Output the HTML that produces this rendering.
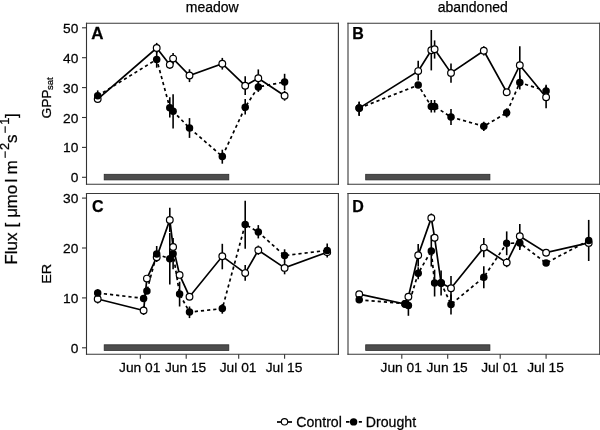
<!DOCTYPE html>
<html><head><meta charset="utf-8"><style>
html,body{margin:0;padding:0;background:#fff;width:600px;height:430px;overflow:hidden}
svg{display:block}
#w{width:600px;height:430px;will-change:transform}
text{font-family:"Liberation Sans", sans-serif;fill:#000;stroke:#000;stroke-width:0.25px}
.t{font-size:13.3px}
.h{font-size:14px}
.L{font-size:15.5px;font-weight:bold}
.f{font-size:16px}
</style></head><body>
<div id="w"><svg width="600" height="430" viewBox="0 0 600 430">
<path d="M86.5,22.65V184.85000000000002M338.4,22.65V184.85000000000002" stroke="#333" stroke-width="1.1" fill="none"/>
<path d="M85.95,23.2H338.95M85.95,184.3H338.95" stroke="#3a3a3a" stroke-width="1.1" fill="none"/>
<path d="M348.0,22.65V184.85000000000002M599.7,22.65V184.85000000000002" stroke="#3a3a3a" stroke-width="1.1" fill="none"/>
<path d="M347.45,23.2H600.25M347.45,184.3H600.25" stroke="#3a3a3a" stroke-width="1.1" fill="none"/>
<path d="M86.5,192.95V354.85M338.4,192.95V354.85" stroke="#333" stroke-width="1.1" fill="none"/>
<path d="M85.95,193.5H338.95M85.95,354.3H338.95" stroke="#3a3a3a" stroke-width="1.1" fill="none"/>
<path d="M348.0,192.95V354.85M599.7,192.95V354.85" stroke="#3a3a3a" stroke-width="1.1" fill="none"/>
<path d="M347.45,193.5H600.25M347.45,354.3H600.25" stroke="#3a3a3a" stroke-width="1.1" fill="none"/>
<rect x="104.2" y="174.3" width="124.6" height="5.6" fill="#4d4d4d" stroke="#2a2a2a" stroke-width="0.8"/>
<rect x="104.2" y="344.8" width="124.6" height="5.6" fill="#4d4d4d" stroke="#2a2a2a" stroke-width="0.8"/>
<rect x="365.7" y="174.3" width="124.2" height="5.6" fill="#4d4d4d" stroke="#2a2a2a" stroke-width="0.8"/>
<rect x="365.7" y="344.8" width="124.2" height="5.6" fill="#4d4d4d" stroke="#2a2a2a" stroke-width="0.8"/>
<line x1="82" y1="177.3" x2="86.5" y2="177.3" stroke="#333" stroke-width="1.1"/>
<text transform="translate(78.30,182.30) scale(1.02,1)" text-anchor="end" font-size="13.5">0</text>
<line x1="82" y1="147.4" x2="86.5" y2="147.4" stroke="#333" stroke-width="1.1"/>
<text transform="translate(78.30,152.40) scale(1.02,1)" text-anchor="end" font-size="13.5">10</text>
<line x1="82" y1="117.5" x2="86.5" y2="117.5" stroke="#333" stroke-width="1.1"/>
<text transform="translate(78.30,122.50) scale(1.02,1)" text-anchor="end" font-size="13.5">20</text>
<line x1="82" y1="87.6" x2="86.5" y2="87.6" stroke="#333" stroke-width="1.1"/>
<text transform="translate(78.30,92.60) scale(1.02,1)" text-anchor="end" font-size="13.5">30</text>
<line x1="82" y1="57.7" x2="86.5" y2="57.7" stroke="#333" stroke-width="1.1"/>
<text transform="translate(78.30,62.70) scale(1.02,1)" text-anchor="end" font-size="13.5">40</text>
<line x1="82" y1="27.8" x2="86.5" y2="27.8" stroke="#333" stroke-width="1.1"/>
<text transform="translate(78.30,32.80) scale(1.02,1)" text-anchor="end" font-size="13.5">50</text>
<line x1="82" y1="347.8" x2="86.5" y2="347.8" stroke="#333" stroke-width="1.1"/>
<text transform="translate(78.30,352.80) scale(1.02,1)" text-anchor="end" font-size="13.5">0</text>
<line x1="82" y1="297.9" x2="86.5" y2="297.9" stroke="#333" stroke-width="1.1"/>
<text transform="translate(78.30,302.90) scale(1.02,1)" text-anchor="end" font-size="13.5">10</text>
<line x1="82" y1="248.0" x2="86.5" y2="248.0" stroke="#333" stroke-width="1.1"/>
<text transform="translate(78.30,253.00) scale(1.02,1)" text-anchor="end" font-size="13.5">20</text>
<line x1="82" y1="198.1" x2="86.5" y2="198.1" stroke="#333" stroke-width="1.1"/>
<text transform="translate(78.30,203.10) scale(1.02,1)" text-anchor="end" font-size="13.5">30</text>
<line x1="140.3" y1="354.3" x2="140.3" y2="358.8" stroke="#333" stroke-width="1.1"/>
<text transform="translate(139.70,372.30) scale(1.02,1)" text-anchor="middle" font-size="13.5">Jun 01</text>
<line x1="186.2" y1="354.3" x2="186.2" y2="358.8" stroke="#333" stroke-width="1.1"/>
<text transform="translate(185.61,372.30) scale(1.02,1)" text-anchor="middle" font-size="13.5">Jun 15</text>
<line x1="238.7" y1="354.3" x2="238.7" y2="358.8" stroke="#333" stroke-width="1.1"/>
<text transform="translate(238.07,372.30) scale(1.02,1)" text-anchor="middle" font-size="13.5">Jul 01</text>
<line x1="284.6" y1="354.3" x2="284.6" y2="358.8" stroke="#333" stroke-width="1.1"/>
<text transform="translate(283.98,372.30) scale(1.02,1)" text-anchor="middle" font-size="13.5">Jul 15</text>
<line x1="401.8" y1="354.3" x2="401.8" y2="358.8" stroke="#333" stroke-width="1.1"/>
<text transform="translate(401.20,372.30) scale(1.02,1)" text-anchor="middle" font-size="13.5">Jun 01</text>
<line x1="447.7" y1="354.3" x2="447.7" y2="358.8" stroke="#333" stroke-width="1.1"/>
<text transform="translate(447.11,372.30) scale(1.02,1)" text-anchor="middle" font-size="13.5">Jun 15</text>
<line x1="500.2" y1="354.3" x2="500.2" y2="358.8" stroke="#333" stroke-width="1.1"/>
<text transform="translate(499.57,372.30) scale(1.02,1)" text-anchor="middle" font-size="13.5">Jul 01</text>
<line x1="546.1" y1="354.3" x2="546.1" y2="358.8" stroke="#333" stroke-width="1.1"/>
<text transform="translate(545.48,372.30) scale(1.02,1)" text-anchor="middle" font-size="13.5">Jul 15</text>
<line x1="156.7" y1="42.9" x2="156.7" y2="53.1" stroke="#000" stroke-width="1.6"/>
<line x1="169.8" y1="60.7" x2="169.8" y2="68.7" stroke="#000" stroke-width="1.6"/>
<line x1="173.1" y1="53.0" x2="173.1" y2="64.2" stroke="#000" stroke-width="1.6"/>
<line x1="189.5" y1="69.3" x2="189.5" y2="82.1" stroke="#000" stroke-width="1.6"/>
<line x1="222.3" y1="57.9" x2="222.3" y2="69.6" stroke="#000" stroke-width="1.6"/>
<line x1="245.2" y1="76.3" x2="245.2" y2="95.1" stroke="#000" stroke-width="1.6"/>
<line x1="258.3" y1="69.4" x2="258.3" y2="87.0" stroke="#000" stroke-width="1.6"/>
<line x1="284.6" y1="90.9" x2="284.6" y2="100.7" stroke="#000" stroke-width="1.6"/>
<line x1="97.7" y1="90.4" x2="97.7" y2="101.2" stroke="#000" stroke-width="1.6"/>
<line x1="156.7" y1="51.1" x2="156.7" y2="67.7" stroke="#000" stroke-width="1.6"/>
<line x1="169.8" y1="97.2" x2="169.8" y2="117.6" stroke="#000" stroke-width="1.6"/>
<line x1="173.1" y1="94.3" x2="173.1" y2="128.6" stroke="#000" stroke-width="1.6"/>
<line x1="189.5" y1="118.1" x2="189.5" y2="137.9" stroke="#000" stroke-width="1.6"/>
<line x1="222.3" y1="149.7" x2="222.3" y2="163.7" stroke="#000" stroke-width="1.6"/>
<line x1="245.2" y1="99.0" x2="245.2" y2="114.6" stroke="#000" stroke-width="1.6"/>
<line x1="258.3" y1="82.3" x2="258.3" y2="91.9" stroke="#000" stroke-width="1.6"/>
<line x1="284.6" y1="73.8" x2="284.6" y2="90.2" stroke="#000" stroke-width="1.6"/>
<polyline points="97.7,99.1 156.7,48.0 169.8,64.7 173.1,58.6 189.5,75.5 222.3,63.7 245.2,85.7 258.3,78.2 284.6,95.8" fill="none" stroke="#000" stroke-width="1.7"/>
<polyline points="97.7,95.8 156.7,59.4 169.8,107.7 173.1,111.2 189.5,128.1 222.3,156.4 245.2,107.2 258.3,86.9 284.6,82.0" fill="none" stroke="#000" stroke-width="1.7" stroke-dasharray="3.2,2.985"/>
<circle cx="97.7" cy="99.1" r="3.35" fill="#fff" stroke="#000" stroke-width="1.2"/>
<circle cx="156.7" cy="48.0" r="3.35" fill="#fff" stroke="#000" stroke-width="1.2"/>
<circle cx="169.8" cy="64.7" r="3.35" fill="#fff" stroke="#000" stroke-width="1.2"/>
<circle cx="173.1" cy="58.6" r="3.35" fill="#fff" stroke="#000" stroke-width="1.2"/>
<circle cx="189.5" cy="75.5" r="3.35" fill="#fff" stroke="#000" stroke-width="1.2"/>
<circle cx="222.3" cy="63.7" r="3.35" fill="#fff" stroke="#000" stroke-width="1.2"/>
<circle cx="245.2" cy="85.7" r="3.35" fill="#fff" stroke="#000" stroke-width="1.2"/>
<circle cx="258.3" cy="78.2" r="3.35" fill="#fff" stroke="#000" stroke-width="1.2"/>
<circle cx="284.6" cy="95.8" r="3.35" fill="#fff" stroke="#000" stroke-width="1.2"/>
<circle cx="97.7" cy="95.8" r="3.75" fill="#000"/>
<circle cx="156.7" cy="59.4" r="3.75" fill="#000"/>
<circle cx="169.8" cy="107.7" r="3.75" fill="#000"/>
<circle cx="173.1" cy="111.2" r="3.75" fill="#000"/>
<circle cx="189.5" cy="128.1" r="3.75" fill="#000"/>
<circle cx="222.3" cy="156.4" r="3.75" fill="#000"/>
<circle cx="245.2" cy="107.2" r="3.75" fill="#000"/>
<circle cx="258.3" cy="86.9" r="3.75" fill="#000"/>
<circle cx="284.6" cy="82.0" r="3.75" fill="#000"/>
<line x1="359.2" y1="101.8" x2="359.2" y2="115.8" stroke="#000" stroke-width="1.6"/>
<line x1="418.2" y1="60.7" x2="418.2" y2="80.5" stroke="#000" stroke-width="1.6"/>
<line x1="431.3" y1="30.0" x2="431.3" y2="70.4" stroke="#000" stroke-width="1.6"/>
<line x1="434.6" y1="40.4" x2="434.6" y2="58.6" stroke="#000" stroke-width="1.6"/>
<line x1="451.0" y1="63.4" x2="451.0" y2="82.8" stroke="#000" stroke-width="1.6"/>
<line x1="483.8" y1="46.2" x2="483.8" y2="55.4" stroke="#000" stroke-width="1.6"/>
<line x1="519.8" y1="46.2" x2="519.8" y2="84.2" stroke="#000" stroke-width="1.6"/>
<line x1="546.1" y1="86.1" x2="546.1" y2="108.3" stroke="#000" stroke-width="1.6"/>
<line x1="359.2" y1="101.8" x2="359.2" y2="115.8" stroke="#000" stroke-width="1.6"/>
<line x1="431.3" y1="100.0" x2="431.3" y2="112.5" stroke="#000" stroke-width="1.6"/>
<line x1="434.6" y1="100.0" x2="434.6" y2="112.5" stroke="#000" stroke-width="1.6"/>
<line x1="451.0" y1="109.0" x2="451.0" y2="125.1" stroke="#000" stroke-width="1.6"/>
<line x1="483.8" y1="121.7" x2="483.8" y2="130.9" stroke="#000" stroke-width="1.6"/>
<line x1="506.7" y1="108.3" x2="506.7" y2="117.5" stroke="#000" stroke-width="1.6"/>
<line x1="519.8" y1="75.6" x2="519.8" y2="89.6" stroke="#000" stroke-width="1.6"/>
<line x1="546.1" y1="84.7" x2="546.1" y2="97.1" stroke="#000" stroke-width="1.6"/>
<polyline points="359.2,108.1 418.2,71.1 431.3,50.2 434.6,49.2 451.0,72.9 483.8,50.8 506.7,92.2 519.8,65.2 546.1,97.2" fill="none" stroke="#000" stroke-width="1.7"/>
<polyline points="359.2,108.1 418.2,85.1 431.3,106.5 434.6,106.5 451.0,117.0 483.8,126.3 506.7,112.8 519.8,82.6 546.1,90.9" fill="none" stroke="#000" stroke-width="1.7" stroke-dasharray="3.2,2.985"/>
<circle cx="359.2" cy="108.1" r="3.35" fill="#fff" stroke="#000" stroke-width="1.2"/>
<circle cx="418.2" cy="71.1" r="3.35" fill="#fff" stroke="#000" stroke-width="1.2"/>
<circle cx="431.3" cy="50.2" r="3.35" fill="#fff" stroke="#000" stroke-width="1.2"/>
<circle cx="434.6" cy="49.2" r="3.35" fill="#fff" stroke="#000" stroke-width="1.2"/>
<circle cx="451.0" cy="72.9" r="3.35" fill="#fff" stroke="#000" stroke-width="1.2"/>
<circle cx="483.8" cy="50.8" r="3.35" fill="#fff" stroke="#000" stroke-width="1.2"/>
<circle cx="506.7" cy="92.2" r="3.35" fill="#fff" stroke="#000" stroke-width="1.2"/>
<circle cx="519.8" cy="65.2" r="3.35" fill="#fff" stroke="#000" stroke-width="1.2"/>
<circle cx="359.2" cy="108.1" r="3.75" fill="#000"/>
<circle cx="418.2" cy="85.1" r="3.75" fill="#000"/>
<circle cx="431.3" cy="106.5" r="3.75" fill="#000"/>
<circle cx="434.6" cy="106.5" r="3.75" fill="#000"/>
<circle cx="451.0" cy="117.0" r="3.75" fill="#000"/>
<circle cx="483.8" cy="126.3" r="3.75" fill="#000"/>
<circle cx="506.7" cy="112.8" r="3.75" fill="#000"/>
<circle cx="519.8" cy="82.6" r="3.75" fill="#000"/>
<circle cx="546.1" cy="90.9" r="3.75" fill="#000"/>
<circle cx="546.1" cy="97.2" r="3.35" fill="#fff" stroke="#000" stroke-width="1.2"/>
<line x1="97.7" y1="294.5" x2="97.7" y2="303.5" stroke="#000" stroke-width="1.6"/>
<line x1="143.6" y1="306.1" x2="143.6" y2="314.9" stroke="#000" stroke-width="1.6"/>
<line x1="169.8" y1="207.8" x2="169.8" y2="232.0" stroke="#000" stroke-width="1.6"/>
<line x1="222.3" y1="243.8" x2="222.3" y2="269.3" stroke="#000" stroke-width="1.6"/>
<line x1="245.2" y1="265.0" x2="245.2" y2="280.8" stroke="#000" stroke-width="1.6"/>
<line x1="258.3" y1="245.6" x2="258.3" y2="254.8" stroke="#000" stroke-width="1.6"/>
<line x1="284.6" y1="261.5" x2="284.6" y2="274.3" stroke="#000" stroke-width="1.6"/>
<line x1="97.7" y1="289.2" x2="97.7" y2="296.8" stroke="#000" stroke-width="1.6"/>
<line x1="156.7" y1="246.0" x2="156.7" y2="262.0" stroke="#000" stroke-width="1.6"/>
<line x1="169.8" y1="233.0" x2="169.8" y2="284.4" stroke="#000" stroke-width="1.6"/>
<line x1="173.1" y1="238.0" x2="173.1" y2="269.3" stroke="#000" stroke-width="1.6"/>
<line x1="179.6" y1="281.7" x2="179.6" y2="306.5" stroke="#000" stroke-width="1.6"/>
<line x1="189.5" y1="306.5" x2="189.5" y2="318.1" stroke="#000" stroke-width="1.6"/>
<line x1="222.3" y1="304.1" x2="222.3" y2="313.7" stroke="#000" stroke-width="1.6"/>
<line x1="245.2" y1="200.7" x2="245.2" y2="248.8" stroke="#000" stroke-width="1.6"/>
<line x1="258.3" y1="225.1" x2="258.3" y2="238.4" stroke="#000" stroke-width="1.6"/>
<line x1="284.6" y1="249.3" x2="284.6" y2="261.9" stroke="#000" stroke-width="1.6"/>
<line x1="327.2" y1="243.4" x2="327.2" y2="257.4" stroke="#000" stroke-width="1.6"/>
<polyline points="97.7,299.0 143.6,310.5 146.9,278.6 156.7,257.2 169.8,219.9 173.1,246.9 179.6,274.9 189.5,296.7 222.3,256.3 245.2,273.1 258.3,250.2 284.6,267.9 327.2,252.2" fill="none" stroke="#000" stroke-width="1.7"/>
<polyline points="97.7,293.0 143.6,298.4 146.9,290.9 156.7,254.0 169.8,258.8 173.1,253.7 179.6,294.1 189.5,312.1 222.3,308.6 245.2,224.4 258.3,232.1 284.6,255.6 327.2,250.4" fill="none" stroke="#000" stroke-width="1.7" stroke-dasharray="3.2,2.985"/>
<circle cx="97.7" cy="299.0" r="3.35" fill="#fff" stroke="#000" stroke-width="1.2"/>
<circle cx="143.6" cy="310.5" r="3.35" fill="#fff" stroke="#000" stroke-width="1.2"/>
<circle cx="146.9" cy="278.6" r="3.35" fill="#fff" stroke="#000" stroke-width="1.2"/>
<circle cx="156.7" cy="257.2" r="3.35" fill="#fff" stroke="#000" stroke-width="1.2"/>
<circle cx="169.8" cy="219.9" r="3.35" fill="#fff" stroke="#000" stroke-width="1.2"/>
<circle cx="179.6" cy="274.9" r="3.35" fill="#fff" stroke="#000" stroke-width="1.2"/>
<circle cx="189.5" cy="296.7" r="3.35" fill="#fff" stroke="#000" stroke-width="1.2"/>
<circle cx="222.3" cy="256.3" r="3.35" fill="#fff" stroke="#000" stroke-width="1.2"/>
<circle cx="245.2" cy="273.1" r="3.35" fill="#fff" stroke="#000" stroke-width="1.2"/>
<circle cx="258.3" cy="250.2" r="3.35" fill="#fff" stroke="#000" stroke-width="1.2"/>
<circle cx="284.6" cy="267.9" r="3.35" fill="#fff" stroke="#000" stroke-width="1.2"/>
<circle cx="327.2" cy="252.2" r="3.35" fill="#fff" stroke="#000" stroke-width="1.2"/>
<circle cx="97.7" cy="293.0" r="3.75" fill="#000"/>
<circle cx="143.6" cy="298.4" r="3.75" fill="#000"/>
<circle cx="146.9" cy="290.9" r="3.75" fill="#000"/>
<circle cx="156.7" cy="254.0" r="3.75" fill="#000"/>
<circle cx="169.8" cy="258.8" r="3.75" fill="#000"/>
<circle cx="173.1" cy="253.7" r="3.75" fill="#000"/>
<circle cx="179.6" cy="294.1" r="3.75" fill="#000"/>
<circle cx="189.5" cy="312.1" r="3.75" fill="#000"/>
<circle cx="222.3" cy="308.6" r="3.75" fill="#000"/>
<circle cx="245.2" cy="224.4" r="3.75" fill="#000"/>
<circle cx="258.3" cy="232.1" r="3.75" fill="#000"/>
<circle cx="284.6" cy="255.6" r="3.75" fill="#000"/>
<circle cx="327.2" cy="250.4" r="3.75" fill="#000"/>
<circle cx="173.1" cy="246.9" r="3.35" fill="#fff" stroke="#000" stroke-width="1.2"/>
<line x1="418.2" y1="243.9" x2="418.2" y2="266.5" stroke="#000" stroke-width="1.6"/>
<line x1="431.3" y1="213.5" x2="431.3" y2="222.3" stroke="#000" stroke-width="1.6"/>
<line x1="451.0" y1="276.0" x2="451.0" y2="300.4" stroke="#000" stroke-width="1.6"/>
<line x1="483.8" y1="237.9" x2="483.8" y2="257.3" stroke="#000" stroke-width="1.6"/>
<line x1="506.7" y1="258.0" x2="506.7" y2="267.2" stroke="#000" stroke-width="1.6"/>
<line x1="519.8" y1="224.1" x2="519.8" y2="248.5" stroke="#000" stroke-width="1.6"/>
<line x1="408.4" y1="295.4" x2="408.4" y2="315.8" stroke="#000" stroke-width="1.6"/>
<line x1="418.2" y1="267.2" x2="418.2" y2="279.3" stroke="#000" stroke-width="1.6"/>
<line x1="431.3" y1="235.3" x2="431.3" y2="266.5" stroke="#000" stroke-width="1.6"/>
<line x1="434.6" y1="269.7" x2="434.6" y2="296.5" stroke="#000" stroke-width="1.6"/>
<line x1="441.1" y1="270.6" x2="441.1" y2="295.6" stroke="#000" stroke-width="1.6"/>
<line x1="451.0" y1="294.4" x2="451.0" y2="314.4" stroke="#000" stroke-width="1.6"/>
<line x1="483.8" y1="266.3" x2="483.8" y2="288.3" stroke="#000" stroke-width="1.6"/>
<line x1="506.7" y1="231.4" x2="506.7" y2="255.2" stroke="#000" stroke-width="1.6"/>
<line x1="519.8" y1="236.2" x2="519.8" y2="250.0" stroke="#000" stroke-width="1.6"/>
<line x1="588.7" y1="219.9" x2="588.7" y2="261.0" stroke="#000" stroke-width="1.6"/>
<polyline points="359.2,294.2 405.1,304.0 408.4,296.8 418.2,255.2 431.3,217.9 434.6,237.7 441.1,283.0 451.0,288.2 483.8,247.6 506.7,262.6 519.8,236.3 546.1,252.7 588.7,242.9" fill="none" stroke="#000" stroke-width="1.7"/>
<polyline points="359.2,299.8 405.1,303.7 408.4,305.6 418.2,273.2 431.3,250.9 434.6,283.1 441.1,283.1 451.0,304.4 483.8,277.2 506.7,243.3 519.8,243.1 546.1,263.1 588.7,240.5" fill="none" stroke="#000" stroke-width="1.7" stroke-dasharray="3.2,2.985"/>
<circle cx="359.2" cy="294.2" r="3.35" fill="#fff" stroke="#000" stroke-width="1.2"/>
<circle cx="405.1" cy="304.0" r="3.35" fill="#fff" stroke="#000" stroke-width="1.2"/>
<circle cx="408.4" cy="296.8" r="3.35" fill="#fff" stroke="#000" stroke-width="1.2"/>
<circle cx="418.2" cy="255.2" r="3.35" fill="#fff" stroke="#000" stroke-width="1.2"/>
<circle cx="431.3" cy="217.9" r="3.35" fill="#fff" stroke="#000" stroke-width="1.2"/>
<circle cx="434.6" cy="237.7" r="3.35" fill="#fff" stroke="#000" stroke-width="1.2"/>
<circle cx="441.1" cy="283.0" r="3.35" fill="#fff" stroke="#000" stroke-width="1.2"/>
<circle cx="451.0" cy="288.2" r="3.35" fill="#fff" stroke="#000" stroke-width="1.2"/>
<circle cx="483.8" cy="247.6" r="3.35" fill="#fff" stroke="#000" stroke-width="1.2"/>
<circle cx="506.7" cy="262.6" r="3.35" fill="#fff" stroke="#000" stroke-width="1.2"/>
<circle cx="546.1" cy="252.7" r="3.35" fill="#fff" stroke="#000" stroke-width="1.2"/>
<circle cx="588.7" cy="242.9" r="3.35" fill="#fff" stroke="#000" stroke-width="1.2"/>
<circle cx="359.2" cy="299.8" r="3.75" fill="#000"/>
<circle cx="405.1" cy="303.7" r="3.75" fill="#000"/>
<circle cx="408.4" cy="305.6" r="3.75" fill="#000"/>
<circle cx="418.2" cy="273.2" r="3.75" fill="#000"/>
<circle cx="431.3" cy="250.9" r="3.75" fill="#000"/>
<circle cx="434.6" cy="283.1" r="3.75" fill="#000"/>
<circle cx="441.1" cy="283.1" r="3.75" fill="#000"/>
<circle cx="451.0" cy="304.4" r="3.75" fill="#000"/>
<circle cx="483.8" cy="277.2" r="3.75" fill="#000"/>
<circle cx="506.7" cy="243.3" r="3.75" fill="#000"/>
<circle cx="519.8" cy="243.1" r="3.75" fill="#000"/>
<circle cx="546.1" cy="263.1" r="3.75" fill="#000"/>
<circle cx="588.7" cy="240.5" r="3.75" fill="#000"/>
<circle cx="519.8" cy="236.3" r="3.35" fill="#fff" stroke="#000" stroke-width="1.2"/>
<text transform="translate(91.30,38.95) scale(1.06,1)" text-anchor="start" font-size="16" font-weight="bold">A</text>
<text transform="translate(352.30,38.50) scale(1.0,1)" text-anchor="start" font-size="16" font-weight="bold">B</text>
<text transform="translate(92.10,212.20) scale(1.0,1)" text-anchor="start" font-size="16" font-weight="bold">C</text>
<text transform="translate(352.30,211.80) scale(1.0,1)" text-anchor="start" font-size="16" font-weight="bold">D</text>
<text transform="translate(212.20,11.50) scale(1.0,1)" text-anchor="middle" font-size="14">meadow</text>
<text transform="translate(472.70,11.50) scale(1.0,1)" text-anchor="middle" font-size="14">abandoned</text>
<g transform="translate(50.5,118.6) rotate(-90)"><text transform="translate(0.00,0.00) scale(1.04,1)" text-anchor="start" font-size="13.3">GPP</text><text transform="translate(28.60,2.80) scale(1.04,1)" text-anchor="start" font-size="9.2">sat</text></g>
<g transform="translate(50.6,273.9) rotate(-90)"><text transform="translate(0.00,0.00) scale(1.08,1)" text-anchor="middle" font-size="13.3">ER</text></g>
<g transform="translate(17.3,263.3) rotate(-90)"><text transform="translate(-1.40,0.00) scale(1.07,1)" text-anchor="start" font-size="16">Flux</text><text transform="translate(35.78,0.00) scale(1.07,1)" text-anchor="start" font-size="16">[</text><text transform="translate(45.65,0.00) scale(1.07,1)" text-anchor="start" font-size="16">μ</text><text transform="translate(54.77,0.00) scale(1.07,1)" text-anchor="start" font-size="16">mo</text><text transform="translate(80.75,0.00) scale(1.07,1)" text-anchor="start" font-size="16">l</text><text transform="translate(88.87,0.00) scale(1.07,1)" text-anchor="start" font-size="16">m</text><text transform="translate(104.77,-8.50) scale(1.07,1)" text-anchor="start" font-size="12">−</text><text transform="translate(113.26,-8.50) scale(1.07,1)" text-anchor="start" font-size="12">2</text><text transform="translate(120.42,0.00) scale(1.07,1)" text-anchor="start" font-size="16">s</text><text transform="translate(129.77,-8.50) scale(1.07,1)" text-anchor="start" font-size="12">−</text><text transform="translate(138.52,-8.50) scale(1.07,1)" text-anchor="start" font-size="12">1</text><text transform="translate(145.36,0.00) scale(1.07,1)" text-anchor="start" font-size="16">]</text></g>
<line x1="277" y1="422" x2="292" y2="422" stroke="#000" stroke-width="1.7"/>
<circle cx="284.5" cy="421.8" r="3.2" fill="#fff" stroke="#000" stroke-width="1.1"/>
<text transform="translate(296.30,427.00) scale(1.01,1)" text-anchor="start" font-size="14">Control</text>
<line x1="346" y1="421.9" x2="361.9" y2="421.9" stroke="#000" stroke-width="1.7" stroke-dasharray="3.5,2.9"/>
<circle cx="353.6" cy="421.9" r="3.7" fill="#000"/>
<text transform="translate(365.80,427.00) scale(1.01,1)" text-anchor="start" font-size="14">Drought</text>
</svg></div>
</body></html>
